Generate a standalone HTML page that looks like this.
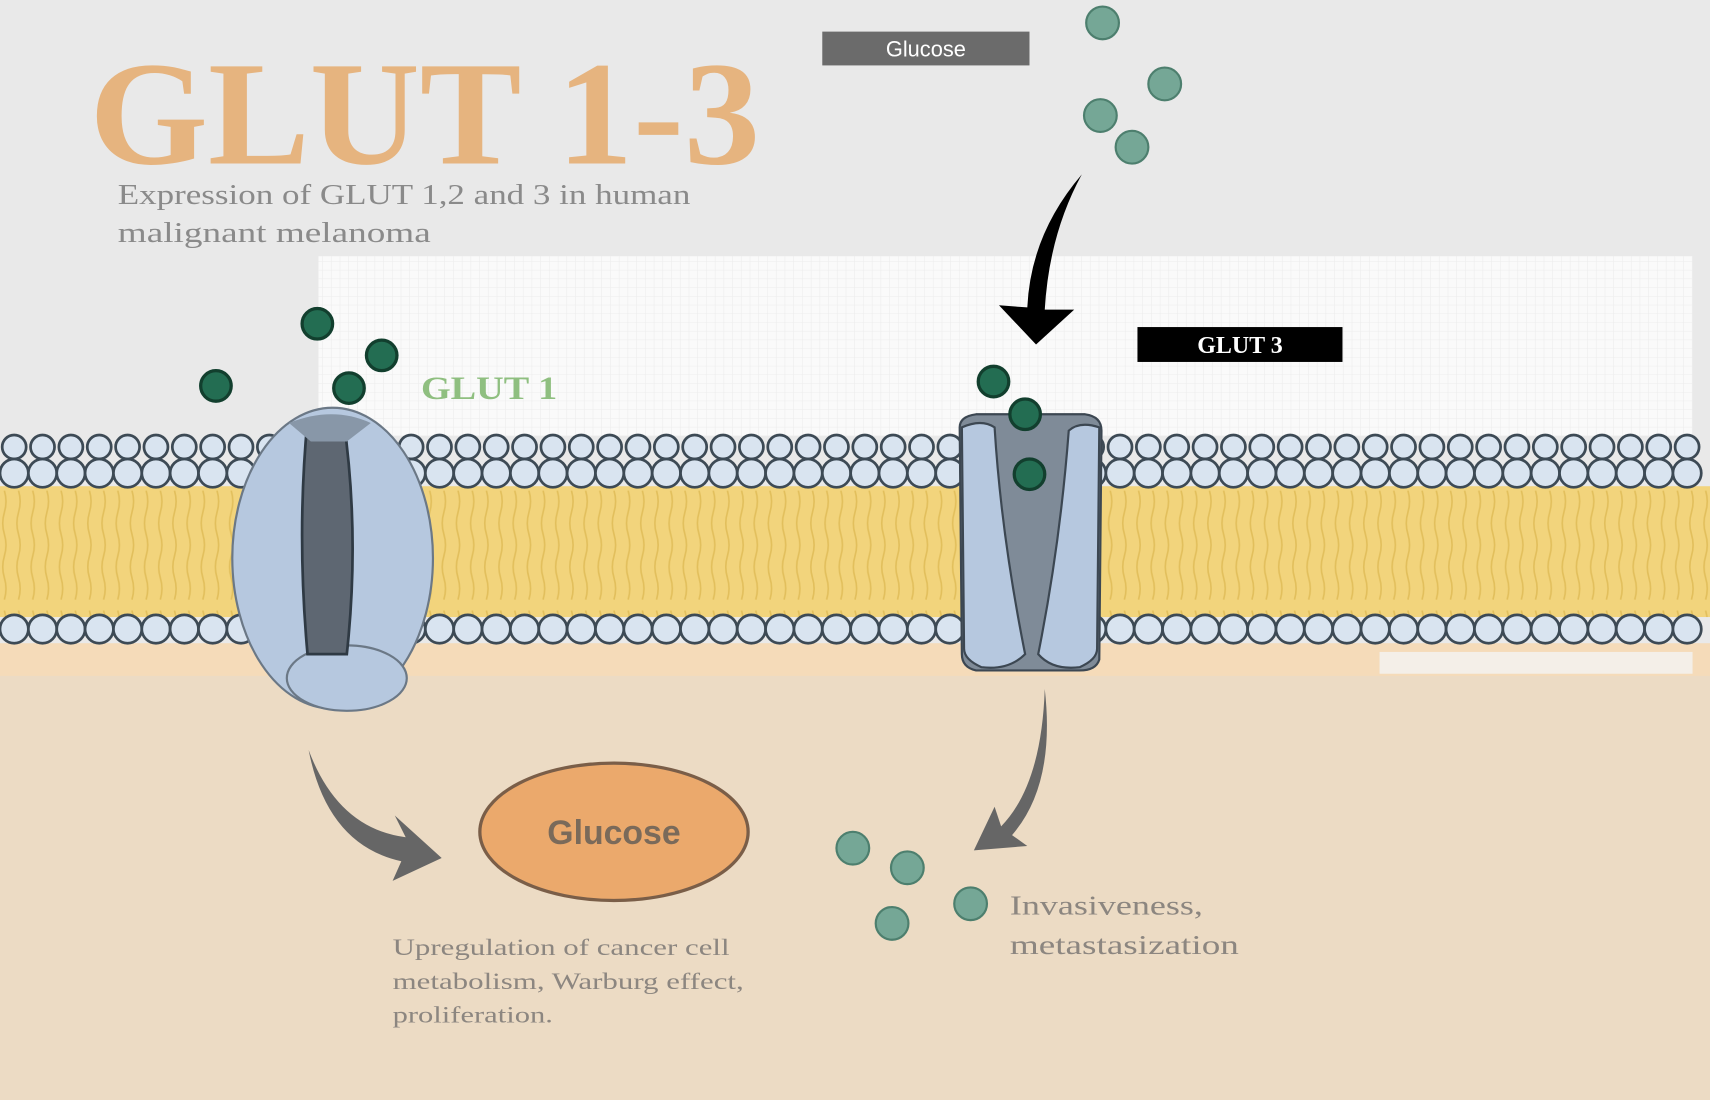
<!DOCTYPE html>
<html><head><meta charset="utf-8"><style>html,body{margin:0;padding:0;background:#e9e9e9}svg{display:block}</style></head>
<body>
<svg width="1710" height="1100" viewBox="0 0 1568 1009" preserveAspectRatio="none" xmlns="http://www.w3.org/2000/svg" font-family="Liberation Serif, serif">
<defs>
<pattern id="grid" width="8" height="8" patternUnits="userSpaceOnUse"><rect width="8" height="8" fill="#fafafa"/><path d="M8 0V8M0 8H8" stroke="#ececec" stroke-width="1"/></pattern>
<pattern id="lip" x="0" y="450" width="13" height="110" patternUnits="userSpaceOnUse">
<rect width="13" height="110" fill="#f2d47c"/>
<path d="M4 0 q3 10 0 20 q-3 10 0 20 q3 10 0 20 q-3 10 0 20 q3 10 0 20" stroke="#e2bf5c" stroke-width="1.5" fill="none"/>
</pattern>
</defs>
<rect width="1568" height="1009" fill="#e9e9e9"/>
<rect x="292" y="235" width="1260" height="165" fill="url(#grid)"/>
<rect x="0" y="595" width="1568" height="414" fill="#ecdbc4"/>
<rect x="0" y="590" width="1568" height="30" fill="#f5dbb9"/>
<rect x="1265" y="598" width="287" height="20" fill="#f4efe8"/>
<rect x="0" y="446" width="1568" height="120" fill="url(#lip)"/>
<g fill="#d9e4f0" stroke="#3d4a55" stroke-width="2.5" id="rowb"></g>
<text x="82" y="150" font-size="136" font-weight="bold" fill="#e6b47f" textLength="615" lengthAdjust="spacingAndGlyphs">GLUT 1-3</text>
<text x="108" y="187" font-size="26" fill="#8a8a8a" textLength="525" lengthAdjust="spacingAndGlyphs">Expression of GLUT 1,2 and 3 in human</text>
<text x="108" y="222" font-size="26" fill="#8a8a8a" textLength="287" lengthAdjust="spacingAndGlyphs">malignant melanoma</text>
<rect x="754" y="29" width="190" height="31" fill="#6b6b6b"/>
<text x="849" y="52" font-size="20" fill="#fff" text-anchor="middle" font-family="Liberation Sans, sans-serif">Glucose</text>
<rect x="1043" y="300" width="188" height="32" fill="#000"/>
<text x="1137" y="324" font-size="22" fill="#fff" font-weight="bold" text-anchor="middle">GLUT 3</text>
<text x="386" y="366" font-size="30" fill="#8fbf80" font-weight="bold" textLength="125" lengthAdjust="spacingAndGlyphs">GLUT 1</text>
<path d="M992 160 Q945 215 942 282 L916 280 L950 316 L985 284 L958 284 Q962 215 992 160Z" fill="#000"/>
<path d="M283 688 Q310 760 372 768 L362 748 L405 787 L360 808 L368 790 Q300 775 283 688Z" fill="#666"/>
<path d="M958 632 Q955 720 918 758 L912 740 L893 780 L942 776 L928 766 Q968 720 958 632Z" fill="#666"/>
<ellipse cx="305" cy="512" rx="92" ry="138" fill="#b6c8df" stroke="#6b7886" stroke-width="2"/>
<ellipse cx="318" cy="622" rx="55" ry="30" fill="#b6c8df" stroke="#6b7886" stroke-width="2"/>
<path d="M282 385 Q272 490 282 600 L318 600 Q330 490 315 385Z" fill="#5e6772" stroke="#2f3a44" stroke-width="2.5"/>
<path d="M265 388 Q305 372 340 388 L318 405 L285 405Z" fill="#8897a8"/>
<path d="M880 392 Q880 382 895 380 L995 380 Q1010 382 1010 395 L1008 605 Q1005 615 990 615 L895 615 Q882 612 882 600Z" fill="#7f8b98" stroke="#3c4752" stroke-width="2"/>
<path d="M882 392 Q900 384 912 392 Q918 490 940 600 Q925 615 900 612 Q884 605 884 595Z" fill="#b6c8df" stroke="#3c4752" stroke-width="2"/>
<path d="M1008 392 Q990 386 980 395 Q972 500 952 600 Q965 615 990 612 Q1006 605 1006 595Z" fill="#b6c8df" stroke="#3c4752" stroke-width="2"/>
<g fill="#236d52" stroke="#123f2e" stroke-width="3">
<circle cx="291" cy="297" r="14"/><circle cx="350" cy="326" r="14"/><circle cx="198" cy="354" r="14"/><circle cx="320" cy="356" r="14"/>
<circle cx="911" cy="350" r="14"/><circle cx="940" cy="380" r="14"/><circle cx="944" cy="435" r="14"/>
</g>
<g fill="#75a796" stroke="#4d7f6e" stroke-width="2">
<circle cx="1011" cy="21" r="15"/><circle cx="1068" cy="77" r="15"/><circle cx="1009" cy="106" r="15"/><circle cx="1038" cy="135" r="15"/>
<circle cx="782" cy="778" r="15"/><circle cx="832" cy="796" r="15"/><circle cx="890" cy="829" r="15"/><circle cx="818" cy="847" r="15"/>
</g>
<ellipse cx="563" cy="763" rx="123" ry="63" fill="#eba96c" stroke="#7a5e48" stroke-width="3"/>
<text x="563" y="774" font-size="31" fill="#7a6a5a" text-anchor="middle" font-weight="bold" font-family="Liberation Sans, sans-serif">Glucose</text>
<g font-size="21" fill="#8c8680">
<text x="360" y="876" textLength="309" lengthAdjust="spacingAndGlyphs">Upregulation of cancer cell</text>
<text x="360" y="907" textLength="322" lengthAdjust="spacingAndGlyphs">metabolism, Warburg effect,</text>
<text x="360" y="938" textLength="147" lengthAdjust="spacingAndGlyphs">proliferation.</text>
</g>
<g font-size="25" fill="#8c8680">
<text x="926" y="839" textLength="177" lengthAdjust="spacingAndGlyphs">Invasiveness,</text>
<text x="926" y="875" textLength="210" lengthAdjust="spacingAndGlyphs">metastasization</text>
</g>
<script>
(function(){
var ns="http://www.w3.org/2000/svg",g=document.getElementById('rowb');
function c(x,y,r){var e=document.createElementNS(ns,'circle');e.setAttribute('cx',x);e.setAttribute('cy',y);e.setAttribute('r',r);g.appendChild(e);}
for(var x=13;x<1568;x+=26){c(x,410,11);}
for(var x=13;x<1568;x+=26){c(x,434,13);c(x,577,13);}
})();
</script>
</svg>
</body></html>
